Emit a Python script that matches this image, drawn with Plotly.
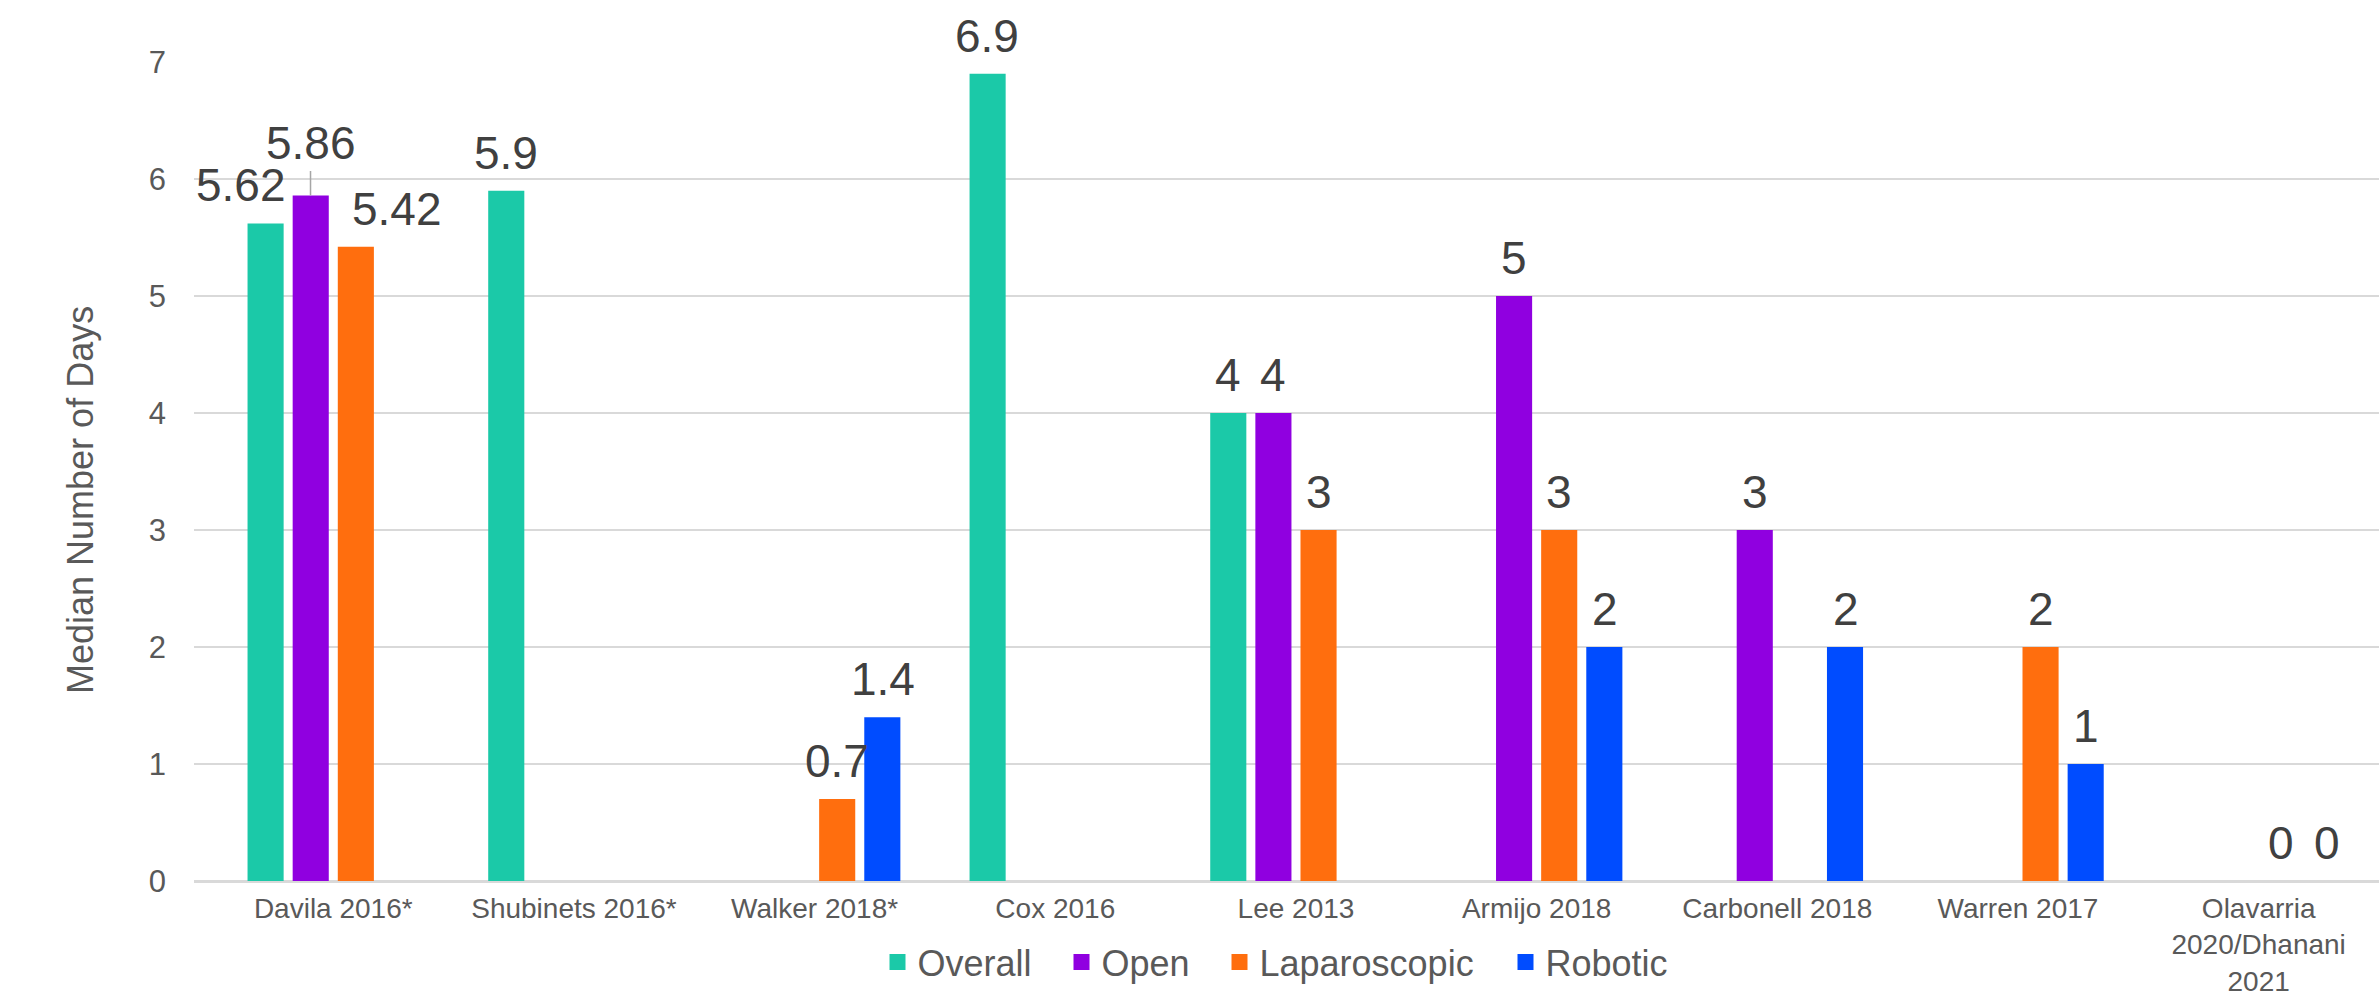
import plotly.graph_objects as go

categories = ["Davila 2016*", "Shubinets 2016*", "Walker 2018*", "Cox 2016", "Lee 2013",
              "Armijo 2018", "Carbonell 2018", "Warren 2017", "Olavarria<br>2020/Dhanani<br>2021"]
series_names = ["Overall", "Open", "Laparoscopic", "Robotic"]
overall = [5.62, 5.9, None, 6.9, 4, None, None, None, None]
open_ = [5.86, None, None, None, 4, 5, 3, None, None]
laparoscopic = [5.42, None, 0.7, None, 3, 3, None, 2, 0]
robotic = [None, None, 1.4, None, None, 2, 2, 1, 0]
y_ticks = [0, 1, 2, 3, 4, 5, 6, 7]

series_values = [overall, open_, laparoscopic, robotic]
colors = ["#1BC9A8", "#9000E0", "#FF6E0E", "#004CFF"]

W, H = 2379, 1000
ML, MR, MT, MB = 194, 0, 62, 119
BARGAP = 0.25
plot_w = W - ML - MR
plot_h = H - MT - MB
cat_w = plot_w / len(categories)
slot = cat_w * (1 - BARGAP) / len(series_names)

# manual label nudges (px) for labels moved in the original chart
label_nudge = {(0, 0): (-24, 0), (2, 0): (41, 0)}
leader = {(1, 0): -52}
# left edge (px) of each legend swatch
legend_swatch_left = [888, 1072, 1230, 1516]

FONT = "Liberation Sans, Arial, sans-serif"

fig = go.Figure()
for i, (name, vals) in enumerate(zip(series_names, series_values)):
    fig.add_trace(go.Bar(name=name, x=categories, y=vals, marker_color=colors[i],
                         marker_line_width=0, showlegend=False, cliponaxis=False))

legend_layout = {}
for i, name in enumerate(series_names):
    key = "legend" if i == 0 else f"legend{i + 1}"
    fig.add_trace(go.Scatter(name=name, x=[None], y=[None], mode="markers",
                             marker=dict(symbol="square", size=19, color=colors[i]),
                             showlegend=True, legend=key))
    legend_layout[key] = dict(orientation="h", xanchor="left", yanchor="middle",
                              x=(legend_swatch_left[i] - 10.5 - ML) / plot_w,
                              y=(H - MB - 962) / plot_h,
                              font=dict(family=FONT, size=36, color="#595959"),
                              itemwidth=30, bgcolor="rgba(0,0,0,0)", borderwidth=0)

annotations = []
for i, vals in enumerate(series_values):
    off = (i - 1.5) * slot
    for j, v in enumerate(vals):
        if v is None:
            continue
        txt = f"{v:g}"
        dx, dy = label_nudge.get((i, j), (0, 0))
        if (i, j) in leader:
            annotations.append(dict(x=categories[j], y=v, xref="x", yref="y", text=txt,
                                    showarrow=True, arrowhead=0, arrowwidth=1.5,
                                    arrowcolor="#a6a6a6", ax=0, ay=leader[(i, j)],
                                    xshift=off, standoff=0,
                                    font=dict(family=FONT, size=46, color="#404040")))
        else:
            annotations.append(dict(x=categories[j], y=v, xref="x", yref="y", text=txt,
                                    showarrow=False, xshift=off + dx, yshift=10 + dy,
                                    yanchor="bottom", xanchor="center",
                                    font=dict(family=FONT, size=46, color="#404040")))

annotations.append(dict(text="Median Number of Days", xref="paper", yref="paper",
                        x=(80 - ML) / plot_w, y=(H - MB - 500) / plot_h,
                        textangle=-90, showarrow=False, xanchor="center", yanchor="middle",
                        font=dict(family=FONT, size=36, color="#595959")))

fig.update_layout(
    width=W, height=H,
    margin=dict(l=ML, r=MR, t=MT, b=MB),
    plot_bgcolor="white", paper_bgcolor="white",
    barmode="group", bargap=BARGAP, bargroupgap=0.2,
    annotations=annotations,
    showlegend=True,
    xaxis=dict(tickfont=dict(family=FONT, size=28, color="#595959"), showgrid=False,
               showline=False, ticks="", automargin=False, ticklabelstandoff=8),
    yaxis=dict(range=[0, 7], tickvals=y_ticks, tickfont=dict(family=FONT, size=31, color="#595959"),
               gridcolor="#d9d9d9", gridwidth=2, zeroline=True, zerolinecolor="#d9d9d9",
               zerolinewidth=3, showline=False, ticks="", ticklabelstandoff=27,
               automargin=False),
    font=dict(family=FONT),
    **legend_layout,
)

fig.write_html("out.html")
